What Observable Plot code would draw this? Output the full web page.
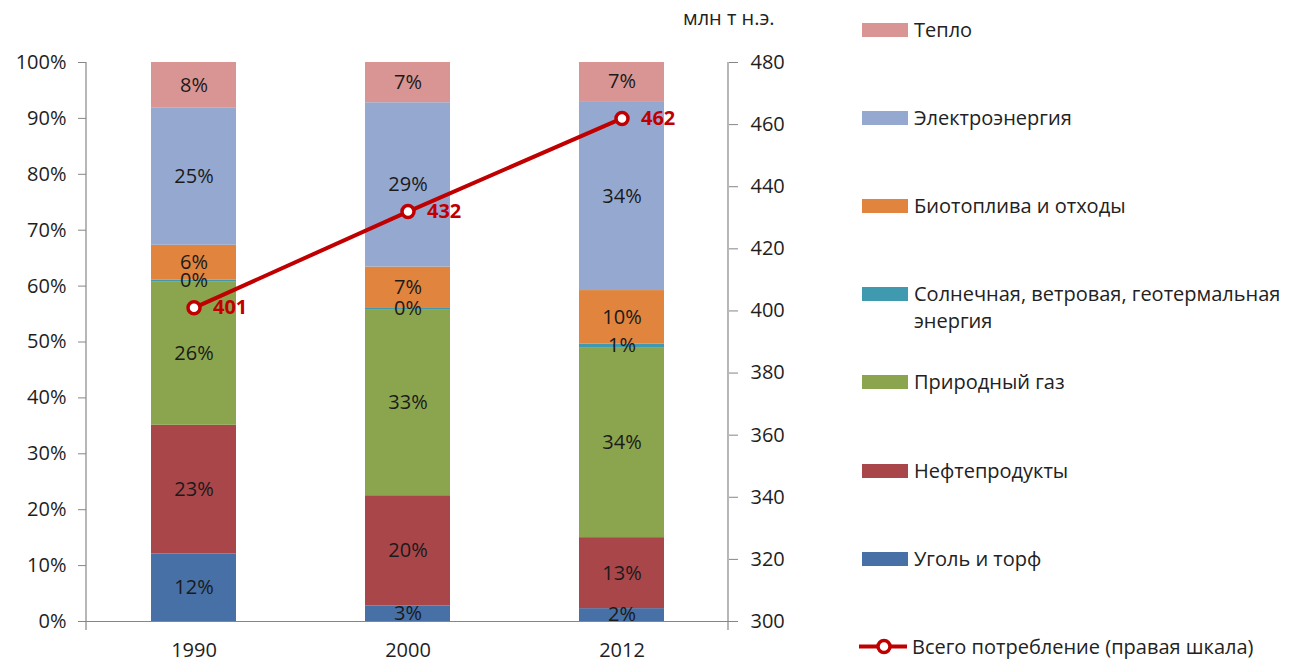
<!DOCTYPE html>
<html>
<head>
<meta charset="utf-8">
<script src="https://cdn.jsdelivr.net/npm/d3@7"></script>
<script src="https://cdn.jsdelivr.net/npm/@observablehq/plot@0.6"></script>
<style>
  html, body { margin: 0; padding: 0; background: #fff; }
  #wrap { position: relative; width: 1295px; height: 664px; font-family: "Open Sans", sans-serif; color: #222; }
  #chart { position: absolute; left: 0; top: 0; }
  #unit { position: absolute; left: 683px; top: 4px; font-size: 20px; white-space: nowrap; }
  .item { position: absolute; left: 862px; display: flex; align-items: flex-start; font-size: 20px; line-height: 27px; white-space: nowrap; }
  .sw { width: 46px; height: 14px; margin-top: 7px; margin-right: 6px; flex: none; }
  .lsw { width: 50px; height: 27px; margin-right: 4px; flex: none; }
</style>
</head>
<body>
<div id="wrap">
  <div id="chart"></div>
  <div id="unit">млн т н.э.</div>
  <div id="legend"></div>
</div>
<script>
// ---- data ----
const years = ["1990", "2000", "2012"];
const categories = [
  "Уголь и торф",
  "Нефтепродукты",
  "Природный газ",
  "Солнечная, ветровая, геотермальная энергия",
  "Биотоплива и отходы",
  "Электроэнергия",
  "Тепло"
];
const coal = [12.1, 2.8, 2.3];
const oil = [23.0, 19.7, 12.7];
const gas = [25.7, 33.3, 34.0];
const solar = [0.3, 0.2, 0.6];
const bio = [6.2, 7.4, 9.6];
const electricity = [24.6, 29.4, 33.8];
const heat = [8.1, 7.2, 7.0];
const totals = [401, 432, 462];
const totalLabel = "Всего потребление (правая шкала)";
const leftTicks = [0, 10, 20, 30, 40, 50, 60, 70, 80, 90, 100];
const rightTicks = [300, 320, 340, 360, 380, 400, 420, 440, 460, 480];
const colors = ["#4670A6", "#A9464A", "#8BA54E", "#3F9AB0", "#E0843E", "#95A9D0", "#D99594"];
const lineColor = "#C00000";

// ---- build tables ----
const series = [coal, oil, gas, solar, bio, electricity, heat];
const rows = categories.flatMap((c, i) => years.map((y, j) => ({year: y, cat: c, value: series[i][j]})));
const rMin = rightTicks[0], rMax = rightTicks[rightTicks.length - 1];
const toLeft = v => (v - rMin) / (rMax - rMin) * 100;
const fromLeft = d => Math.round(rMin + d / 100 * (rMax - rMin));
const lineData = years.map((y, j) => ({year: y, total: totals[j], yv: toLeft(totals[j])}));

const axisColor = "#868686";
const textColor = "#1e1e1e";

const plot = Plot.plot({
  width: 860,
  height: 664,
  marginLeft: 86,
  marginRight: 132,
  marginTop: 62,
  marginBottom: 43,
  style: {fontFamily: "Open Sans, sans-serif", background: "transparent", overflow: "visible"},
  x: {type: "band", domain: years, paddingInner: 0.603, paddingOuter: 0.3},
  y: {domain: [0, 100]},
  color: {domain: categories, range: colors},
  marks: [
    Plot.barY(rows, {x: "year", y: "value", fill: "cat", z: "cat", order: null}),
    Plot.text(rows, Plot.stackY({x: "year", y: "value", z: "cat", order: null,
      text: d => Math.round(d.value) + "%", fontSize: 20, fill: "#1a1a1a"})),
    Plot.ruleY([0], {stroke: axisColor, strokeWidth: 1.2, insetLeft: -8, insetRight: -9}),
    Plot.axisY(leftTicks, {anchor: "left", tickFormat: d => d + "%", tickSize: 8, tickPadding: 12,
      fontSize: 20, stroke: axisColor, fill: textColor, label: null}),
    Plot.axisY(rightTicks.map(toLeft), {anchor: "right", tickFormat: fromLeft, tickSize: 9, tickPadding: 13,
      fontSize: 20, stroke: axisColor, fill: textColor, label: null}),
    Plot.axisX({anchor: "bottom", tickSize: 0, tickPadding: 21, fontSize: 20, fill: textColor, label: null}),
    Plot.line(lineData, {x: "year", y: "yv", stroke: lineColor, strokeWidth: 4}),
    Plot.dot(lineData, {x: "year", y: "yv", r: 6, fill: "white", stroke: lineColor, strokeWidth: 3.5}),
    Plot.text(lineData, {x: "year", y: "yv", text: d => String(d.total), dx: 19, textAnchor: "start",
      fontSize: 20, fontWeight: "bold", fill: lineColor})
  ]
});
document.getElementById("chart").appendChild(plot);

// ---- vertical axis lines, from the plot's own scales ----
{
  const xs = plot.scale("x"), ys = plot.scale("y");
  const [xl, xr] = xs.range;
  const [yb, yt] = ys.range;
  const g = d3.select(plot).append("g").attr("stroke", axisColor).attr("stroke-width", 1.2);
  [xl, xr].forEach(x => {
    g.append("line").attr("x1", x).attr("x2", x).attr("y1", yt).attr("y2", yb + 9);
  });
}

// ---- legend (top to bottom: reverse stack order, then line) ----
const legend = document.getElementById("legend");
const order = categories.map((c, i) => i).reverse();
const step = 88.2, firstCenter = 29;
order.forEach((i, k) => {
  const el = document.createElement("div");
  el.className = "item";
  el.style.top = (firstCenter + k * step - 13.5) + "px";
  const sw = document.createElement("div");
  sw.className = "sw";
  sw.style.background = colors[i];
  const tx = document.createElement("div");
  const name = categories[i];
  if (name.length > 30) {
    const cut = name.lastIndexOf(" ");
    tx.innerHTML = name.slice(0, cut) + "<br>" + name.slice(cut + 1);
  } else tx.textContent = name;
  el.appendChild(sw);
  el.appendChild(tx);
  legend.appendChild(el);
});
{
  const el = document.createElement("div");
  el.className = "item";
  el.style.top = (firstCenter + 7 * step - 13.5) + "px";
  el.style.left = "858px";
  el.innerHTML = `<svg class="lsw" viewBox="0 0 50 27"><line x1="1" x2="49" y1="13.5" y2="13.5" stroke="${lineColor}" stroke-width="4"/><circle cx="26" cy="13.5" r="6" fill="white" stroke="${lineColor}" stroke-width="3.5"/></svg>`;
  const tx = document.createElement("div");
  tx.textContent = totalLabel;
  el.appendChild(tx);
  legend.appendChild(el);
}
</script>
</body>
</html>
